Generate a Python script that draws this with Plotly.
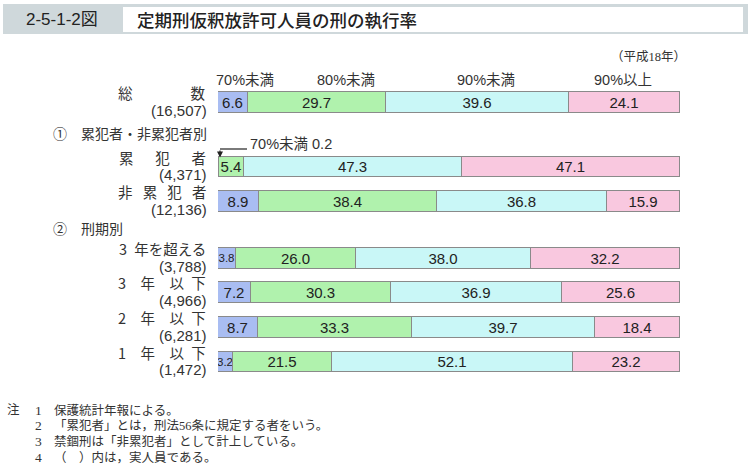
import plotly.graph_objects as go

# ---- data ----
categories = ["総数", "累犯者", "非累犯者", "3年を超える", "3年以下", "2年以下", "1年以下"]
name_labels = ["総　　　　数", "累　\u2002犯　\u2002者", "非\u2002\u2009累\u2002\u2009犯\u2002\u2009者",
               "3\u2002年を超える", "3　年　以\u2002下", "2　年　以\u2002下", "1　年　以\u2002下"]
counts = ["16,507", "4,371", "12,136", "3,788", "4,966", "6,281", "1,472"]
series_names = ["70%未満", "80%未満", "90%未満", "90%以上"]
lt70 = [6.6, 0.2, 8.9, 3.8, 7.2, 8.7, 3.2]
lt80 = [29.7, 5.4, 38.4, 26.0, 30.3, 33.3, 21.5]
lt90 = [39.6, 47.3, 36.8, 38.0, 36.9, 39.7, 52.1]
ge90 = [24.1, 47.1, 15.9, 32.2, 25.6, 18.4, 23.2]
sections = ["①", "累犯者・非累犯者別", "②", "刑期別"]
notes = ["保護統計年報による。",
         "「累犯者」とは，刑法56条に規定する者をいう。",
         "禁錮刑は「非累犯者」として計上している。",
         "（　）内は，実人員である。"]

# ---- layout constants (pixel rows, y axis in px) ----
ROW_Y = [102.5, 167, 201.5, 258.5, 292.5, 327.5, 362]
BAR_W = 20.5
W, H = 752, 470
X0, X1 = 218, 680
colors = ["#a9bdf2", "#b0f2ad", "#c9f7f7", "#f9c8df"]
SANS = "Liberation Sans, Arial, Noto Sans CJK JP, sans-serif"
NARROW = "Liberation Sans Narrow, Arial Narrow, Liberation Sans, sans-serif"
CJK = "Noto Sans CJK JP, sans-serif"
SERIF = "Liberation Serif, Noto Sans CJK JP, serif"
TXT = "#222222"

fig = go.Figure()
for name, vals, col in zip(series_names, [lt70, lt80, lt90, ge90], colors):
    texts = ["" if v < 1 else f"{v:.1f}" for v in vals]
    sizes = [11.5 if v < 5 else 15 for v in vals]
    fams = [NARROW if v < 5 else SANS for v in vals]
    fig.add_trace(go.Bar(
        orientation="h", x=vals, y=ROW_Y, width=BAR_W, name=name,
        marker=dict(color=col, line=dict(color="#8a8a8a", width=1)),
        text=texts, textposition="inside", insidetextanchor="middle",
        textangle=0, constraintext="none",
        textfont=dict(family=fams, size=sizes, color=TXT),
        hoverinfo="skip", showlegend=False))

def px2x(px):
    return (px - X0) / (X1 - X0) * 100

ann = []
# row labels
for nm, c, y in zip(name_labels, counts, ROW_Y):
    ann.append(dict(x=208 / W, xref="paper", y=y - 10, yref="y", text=nm, showarrow=False,
                    xanchor="right", yanchor="middle", font=dict(family=CJK, size=14.5, color="#333")))
    ann.append(dict(x=209 / W, xref="paper", y=y + 7.5, yref="y", text=f"({c})", showarrow=False,
                    xanchor="right", yanchor="middle", font=dict(family=SANS, size=15, color="#333")))
# section headings
for sym, txt, y in [(sections[0], sections[1], 133), (sections[2], sections[3], 228)]:
    ann.append(dict(x=51 / W, xref="paper", y=y, yref="y", text=sym, showarrow=False,
                    xanchor="left", yanchor="middle", font=dict(family=CJK, size=14, color="#333")))
    ann.append(dict(x=79 / W, xref="paper", y=y, yref="y", text=txt, showarrow=False,
                    xanchor="left", yanchor="middle", font=dict(family=CJK, size=14, color="#333")))
# series labels above total bar
for nm, px in zip(series_names, [245, 346, 486, 623]):
    ann.append(dict(x=px2x(px), xref="x", y=80, yref="y", text=nm, showarrow=False,
                    xanchor="center", yanchor="middle", font=dict(family=SANS, size=14.5, color="#333")))
# callout for 0.2
ann.append(dict(x=px2x(248), xref="x", y=144, yref="y", text=f"{series_names[0]} {lt70[1]}",
                showarrow=False, xanchor="left", yanchor="middle",
                font=dict(family=SANS, size=14.5, color="#333")))
ann.append(dict(x=px2x(220), xref="x", y=157.5, yref="y", ax=px2x(220), ay=149, axref="x", ayref="y",
                text="", showarrow=True, arrowhead=2, arrowsize=1, arrowwidth=1.2, arrowcolor="#222"))
# title
ann.append(dict(x=62 / W, xref="paper", y=19.5, yref="y", text="2-5-1-2図", showarrow=False,
                xanchor="center", yanchor="middle", font=dict(family=SANS, size=17, color=TXT)))
ann.append(dict(x=135 / W, xref="paper", y=19.5, yref="y", text="定期刑仮釈放許可人員の刑の執行率",
                showarrow=False, xanchor="left", yanchor="middle",
                font=dict(family=CJK, size=17.5, color=TXT, weight=500)))
ann.append(dict(x=688 / W, xref="paper", y=57, yref="y", text="（平成18年）", showarrow=False,
                xanchor="right", yanchor="middle", font=dict(family=SERIF, size=12.5, color="#333")))
# notes
ann.append(dict(x=5 / W, xref="paper", y=410, yref="y", text="注", showarrow=False,
                xanchor="left", yanchor="middle", font=dict(family=SERIF, size=12.5, color="#333")))
for i, t in enumerate(notes):
    y = 410 + i * 15.9
    ann.append(dict(x=33 / W, xref="paper", y=y, yref="y", text=str(i + 1), showarrow=False,
                    xanchor="left", yanchor="middle", font=dict(family=SERIF, size=13.5, color="#333")))
    ann.append(dict(x=52 / W, xref="paper", y=y, yref="y", text=t, showarrow=False,
                    xanchor="left", yanchor="middle", font=dict(family=SERIF, size=12.5, color="#333")))

shapes = [
    dict(type="rect", xref="paper", yref="y", x0=3 / W, x1=748 / W, y0=4, y1=34,
         fillcolor="#cfd8db", line=dict(width=0), layer="below"),
    dict(type="rect", xref="paper", yref="y", x0=123 / W, x1=743 / W, y0=7, y1=32,
         fillcolor="#ffffff", line=dict(width=0), layer="below"),
    dict(type="line", xref="x", yref="y", x0=px2x(220), x1=px2x(247), y0=149, y1=149,
         line=dict(color="#222", width=1.2)),
]

fig.update_layout(
    width=W, height=H, margin=dict(l=0, r=0, t=0, b=0),
    paper_bgcolor="white", plot_bgcolor="white",
    barmode="stack", bargap=0,
    xaxis=dict(domain=[X0 / W, X1 / W], range=[0, 100], visible=False, fixedrange=True),
    yaxis=dict(domain=[0, 1], range=[H, 0], visible=False, fixedrange=True),
    annotations=ann, shapes=shapes, showlegend=False,
)
fig.write_html("out.html", config={"displayModeBar": False},
               post_script="document.body.style.margin='0';document.body.style.overflow='hidden';")
